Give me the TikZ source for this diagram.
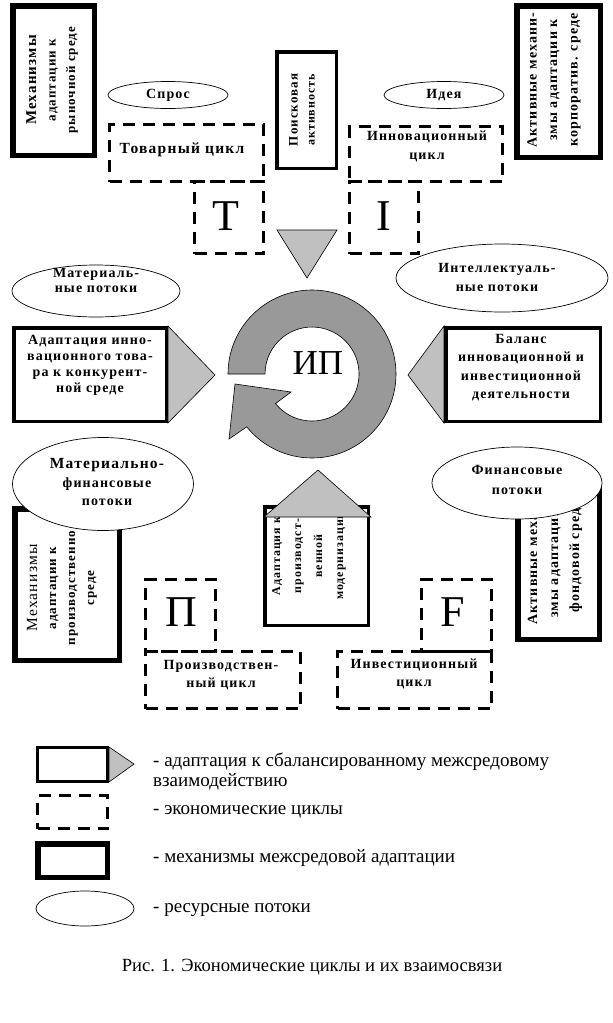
\documentclass[tikz,border=0pt]{standalone}
\usepackage{fontspec}
\setmainfont{Liberation Serif}
\newfontfamily\lsf{Liberation Serif}[LetterSpace=8]
\usetikzlibrary{shapes.geometric}
\definecolor{ringgray}{RGB}{153,153,153}
\definecolor{trigray}{RGB}{192,192,192}
\begin{document}
\begin{tikzpicture}[x=1pt,y=-1pt,
  thickbox/.style={draw, line width=5.5pt, inner sep=0pt, fill=white},
  midbox/.style={draw, line width=3.5pt, inner sep=0pt, fill=white},
  cyclebox/.style={draw, line width=3pt, dash pattern=on 12pt off 8pt, inner sep=0pt},
  flow/.style={draw, ellipse, line width=0.7pt, fill=white, inner sep=0pt},
  tri/.style={draw, line width=0.6pt, fill=trigray},
  lbl/.style={font=\lsf\bfseries\fontsize{14}{16}\selectfont, align=center, inner sep=0pt},
  vlbl/.style={lbl, rotate=90},
  bigl/.style={font=\fontsize{44}{44}\selectfont, inner sep=0pt},
  leg/.style={font=\fontsize{19}{22}\selectfont, anchor=west, inner sep=0pt},
]
\useasboundingbox[fill=white] (0,0) rectangle (613,1023);

% triangles behind boxes
\draw[tri] (168,326) -- (215,375) -- (168,423) -- cycle;
\draw[tri] (444,326) -- (408,375) -- (444,423) -- cycle;
\draw[tri] (109,747) -- (134,764) -- (109,782) -- cycle;
\draw[tri] (277,230) -- (337,230) -- (307,278) -- cycle;

% top-left mechanism box
\node[thickbox, minimum width=81.5, minimum height=149.5] (mtl) at (53.5,80.5) {};
\node[vlbl, font=\lsf\bfseries\fontsize{13}{19.5}\selectfont] (mtlt) at (52,80) {{\fontsize{15}{19.5}\selectfont Механизмы}\\адаптации к\\рыночной среде};

% top-right mechanism box
\node[thickbox, minimum width=83.5, minimum height=151.5] (mtr) at (558.5,81.5) {};
\node[vlbl, font=\lsf\bfseries\fontsize{14}{20.5}\selectfont] (mtrt) at (554,80) {Активные механи-\\змы адаптации к\\корпоратив. среде};

% search activity
\node[midbox, minimum width=59.5, minimum height=116.5] (poisk) at (306.5,110) {};
\node[vlbl, font=\lsf\bfseries\fontsize{13}{17}\selectfont] (poiskt) at (302,110) {Поисковая\\{\fontsize{12}{17}\selectfont активность}};

% demand / idea
\node[flow, minimum width=120, minimum height=27] (spros) at (168,95) {};
\node[lbl] (sprost) at (168,95) {Спрос};
\node[flow, minimum width=120, minimum height=27] (ideya) at (444,95) {};
\node[lbl] (ideyat) at (444,95) {Идея};

% cycles top
\node[cyclebox, minimum width=154, minimum height=57] (tov) at (186.5,153) {};
\node[lbl, font=\lsf\bfseries\fontsize{15.5}{18}\selectfont] (tovt) at (182,150) {Товарный цикл};
\node[cyclebox, minimum width=69, minimum height=72] (tbox) at (229,217.5) {};
\node[bigl] (tboxt) at (226,216) {T};
\node[cyclebox, minimum width=153, minimum height=55] (inn) at (426,154) {};
\node[lbl, font=\lsf\bfseries\fontsize{14}{19}\selectfont] (innt) at (427,146) {Инновационный\\цикл};
\node[cyclebox, minimum width=69, minimum height=72] (ibox) at (384,217.5) {};
\node[bigl] (iboxt) at (384,216) {I};

% flows middle
\node[flow, minimum width=168, minimum height=52] (matfl) at (96,291) {};
\node[lbl, font=\lsf\bfseries\fontsize{14}{15}\selectfont] (matflt) at (96,280) {Материаль-\\ные потоки};
\node[flow, minimum width=212, minimum height=68] (intfl) at (502,278) {};
\node[lbl, font=\lsf\bfseries\fontsize{14}{19}\selectfont] (intflt) at (497,277) {Интеллектуаль-\\ные потоки};

% adaptation boxes
\node[midbox, minimum width=152.5, minimum height=93.5] (adl) at (90,374.5) {};
\node[lbl] (adlt) at (90,365) {Адаптация инно-\\вационного това-\\ра к конкурент-\\ной среде};
\node[midbox, minimum width=154.5, minimum height=93.5] (bal) at (523,374.5) {};
\node[lbl, font=\lsf\bfseries\fontsize{14}{18.3}\selectfont] (balt) at (521,367.5) {Баланс\\инновационной и\\инвестиционной\\деятельности};

% bottom mechanism boxes
\node[thickbox, minimum width=104.5, minimum height=151.5] (mbl) at (67,584.5) {};
\node[vlbl, font=\lsf\bfseries\fontsize{13}{19}\selectfont] (mblt) at (62,588) {{\mdseries\fontsize{15.5}{19}\selectfont Механизмы}\\адаптации к\\производственно\\среде};
\node[thickbox, minimum width=81.5, minimum height=156.5] (mbr) at (558.5,561) {};
\node[vlbl, font=\lsf\bfseries\fontsize{14}{21}\selectfont] (mbrt) at (555,557) {Активные механи-\\змы адаптации к\\фондовой среде};

% flows lower (over boxes)
\node[flow, minimum width=181, minimum height=93] (mfl) at (103,484) {};
\node[lbl, font=\lsf\bfseries\fontsize{14}{18.5}\selectfont] (mflt) at (107,482) {{\fontsize{15.5}{18.5}\selectfont Материально-}\\финансовые\\потоки};
\node[flow, minimum width=170, minimum height=72] (finfl) at (517,483) {};
\node[lbl, font=\lsf\bfseries\fontsize{14}{20}\selectfont] (finflt) at (517,480) {Финансовые\\потоки};

% production modernisation box
\node[midbox, minimum width=103.5, minimum height=118.5] (adpm) at (316.5,566) {};
\node[vlbl, font=\lsf\bfseries\fontsize{12}{21}\selectfont] (adpmt) at (309,556) {Адаптация к\\производст-\\венной\\модернизации};
\draw[tri] (264,517) -- (371,517) -- (318,470) -- cycle;

% bottom cycles
\node[cyclebox, minimum width=70, minimum height=71.5] (pbox) at (180.5,615.25) {};
\node[bigl] (pboxt) at (181,612) {П};
\node[cyclebox, minimum width=155, minimum height=57.5] (proiz) at (223,679.75) {};
\node[lbl, font=\lsf\bfseries\fontsize{14}{18}\selectfont] (proizt) at (221,675) {Производствен-\\ный цикл};
\node[cyclebox, minimum width=70, minimum height=71.5] (fbox) at (456.5,615.25) {};
\node[bigl] (fboxt) at (453,612) {F};
\node[cyclebox, minimum width=154, minimum height=57.5] (inv) at (414.5,679.75) {};
\node[lbl, font=\lsf\bfseries\fontsize{14}{18}\selectfont] (invt) at (414,674) {Инвестиционный\\цикл};

% central circular arrow
\filldraw[fill=ringgray, draw=black, line width=0.6pt] (228,374) arc[start angle=180, end angle=501, radius=84] -- (229,439) -- (235,384) -- (291,392) -- (275.5,403.6) arc[start angle=501, end angle=180, radius=47] -- cycle;
\node[font=\fontsize{35}{35}\selectfont, inner sep=0pt] (ip) at (318,363) {ИП};

% legend
\node[midbox, line width=3pt, minimum width=70, minimum height=34] (lga) at (72.5,764.5) {};
\node[leg] (lgat) at (153,762) {- адаптация к сбалансированному межсредовому};
\node[leg] (lgat2) at (153,782) {взаимодействию};
\node[cyclebox, minimum width=70, minimum height=33] (lgb) at (72.5,812) {};
\node[leg] (lgbt) at (153,812) {- экономические циклы};
\node[thickbox, minimum width=69.5, minimum height=33.5] (lgc) at (72.5,860.5) {};
\node[leg] (lgct) at (153,858) {- механизмы межсредовой адаптации};
\node[flow, minimum width=98, minimum height=35] (lgd) at (85,908.5) {};
\node[leg] (lgdt) at (153,910) {- ресурсные потоки};
\node[font=\fontsize{18.6}{22}\selectfont, inner sep=0pt] (cap) at (312,967) {Рис. 1. Экономические циклы и их взаимосвязи};
\end{tikzpicture}
\end{document}
